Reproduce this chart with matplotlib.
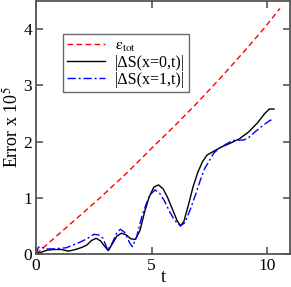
import numpy as np
import matplotlib
matplotlib.use("Agg")
import matplotlib.pyplot as plt

plt.rcParams['font.family'] = ['Liberation Serif', 'DejaVu Serif']
plt.rcParams['mathtext.fontset'] = 'stix'

# total error bound (red dashed)
t_tot = [0, 1, 2, 2.77, 4, 5, 5.22, 6, 7, 7.68, 8, 9, 9.84, 10.56]
e_tot = [0, 0.36, 0.72, 1.0, 1.47, 1.88, 1.97, 2.28, 2.70, 3.0, 3.14, 3.60, 4.0, 4.37]

# |dS(x=0,t)| (black solid)
t_x0 = [0, 0.2, 0.5, 0.8, 1.1, 1.4, 1.7, 2.0, 2.2, 2.4, 2.6, 2.8, 3.0, 3.13,
        3.3, 3.5, 3.7, 3.9, 4.1, 4.3, 4.5, 4.7, 4.9, 5.1, 5.3, 5.5, 5.7, 5.9,
        6.1, 6.25, 6.4, 6.6, 6.8, 7.0, 7.2, 7.4, 7.7, 8.0, 8.4, 8.8, 9.2, 9.6,
        9.9, 10.1, 10.3]
s_x0 = [0.0, 0.03, 0.07, 0.08, 0.08, 0.05, 0.08, 0.12, 0.16, 0.24, 0.28, 0.23,
        0.12, 0.06, 0.18, 0.32, 0.37, 0.34, 0.27, 0.26, 0.42, 0.75, 1.02, 1.19,
        1.23, 1.16, 1.0, 0.8, 0.6, 0.5, 0.58, 0.88, 1.2, 1.45, 1.64, 1.76, 1.83,
        1.9, 1.97, 2.05, 2.17, 2.34, 2.5, 2.58, 2.58]

# |dS(x=1,t)| (blue dash-dot)
t_x1 = [0, 0.1, 0.2, 0.4, 0.7, 1.0, 1.3, 1.6, 1.9, 2.2, 2.5, 2.7, 2.9, 3.1,
        3.3, 3.5, 3.65, 3.85, 4.05, 4.17, 4.35, 4.6, 4.85, 5.0, 5.15, 5.35,
        5.55, 5.8, 6.0, 6.25, 6.45, 6.7, 6.9, 7.1, 7.3, 7.5, 7.7, 8.0, 8.5,
        9.0, 9.2, 9.5, 9.8, 10.1, 10.3]
s_x1 = [0.0, 0.12, 0.13, 0.09, 0.09, 0.1, 0.11, 0.16, 0.21, 0.27, 0.35, 0.34,
        0.28, 0.07, 0.2, 0.38, 0.44, 0.38, 0.2, 0.13, 0.3, 0.7, 0.98, 1.08,
        1.14, 1.08, 0.95, 0.74, 0.6, 0.5, 0.56, 0.82, 1.05, 1.3, 1.52, 1.66,
        1.8, 1.9, 2.02, 2.03, 2.07, 2.18, 2.28, 2.37, 2.41]

fig = plt.figure(figsize=(2.91, 2.87), dpi=100)
ax = fig.add_axes([0.124, 0.115, 0.873, 0.881])

ax.plot(t_tot, e_tot, color='red', lw=1.0, dashes=(4, 2.5), label=r'$\mathrm{\epsilon}_{\mathrm{tot}}$')
ax.plot(t_x0, s_x0, color='black', lw=1.0, label='|ΔS(x=0,t)|')
ax.plot(t_x1, s_x1, color='blue', lw=1.0, dashes=(6, 2, 1.5, 2), label='|ΔS(x=1,t)|')

ax.set_xlim(0, 11)
ax.set_ylim(0, 4.5)
ax.set_xticks([0, 5, 10])
ax.set_yticks([0, 1, 2, 3, 4])
ax.tick_params(direction='in', length=5, width=1.2, top=True, right=True,
               labelsize=12.5, pad=3, color='#555555')
for s in ax.spines.values():
    s.set_linewidth(1.3)
    s.set_color('#555555')

ax.set_xlabel('t', fontsize=13, labelpad=-3.5)
ax.set_ylabel(r'Error x 10$^5$', fontsize=13, labelpad=1)

leg = ax.legend(loc='upper left', bbox_to_anchor=(0.106, 0.87), fontsize=11.5,
                frameon=True, fancybox=False, edgecolor='#444444',
                handlelength=2.4, handletextpad=0.6, borderpad=0.25,
                labelspacing=0.05, borderaxespad=0)
leg.get_frame().set_linewidth(1.0)

fig.savefig('out.png', dpi=100)
